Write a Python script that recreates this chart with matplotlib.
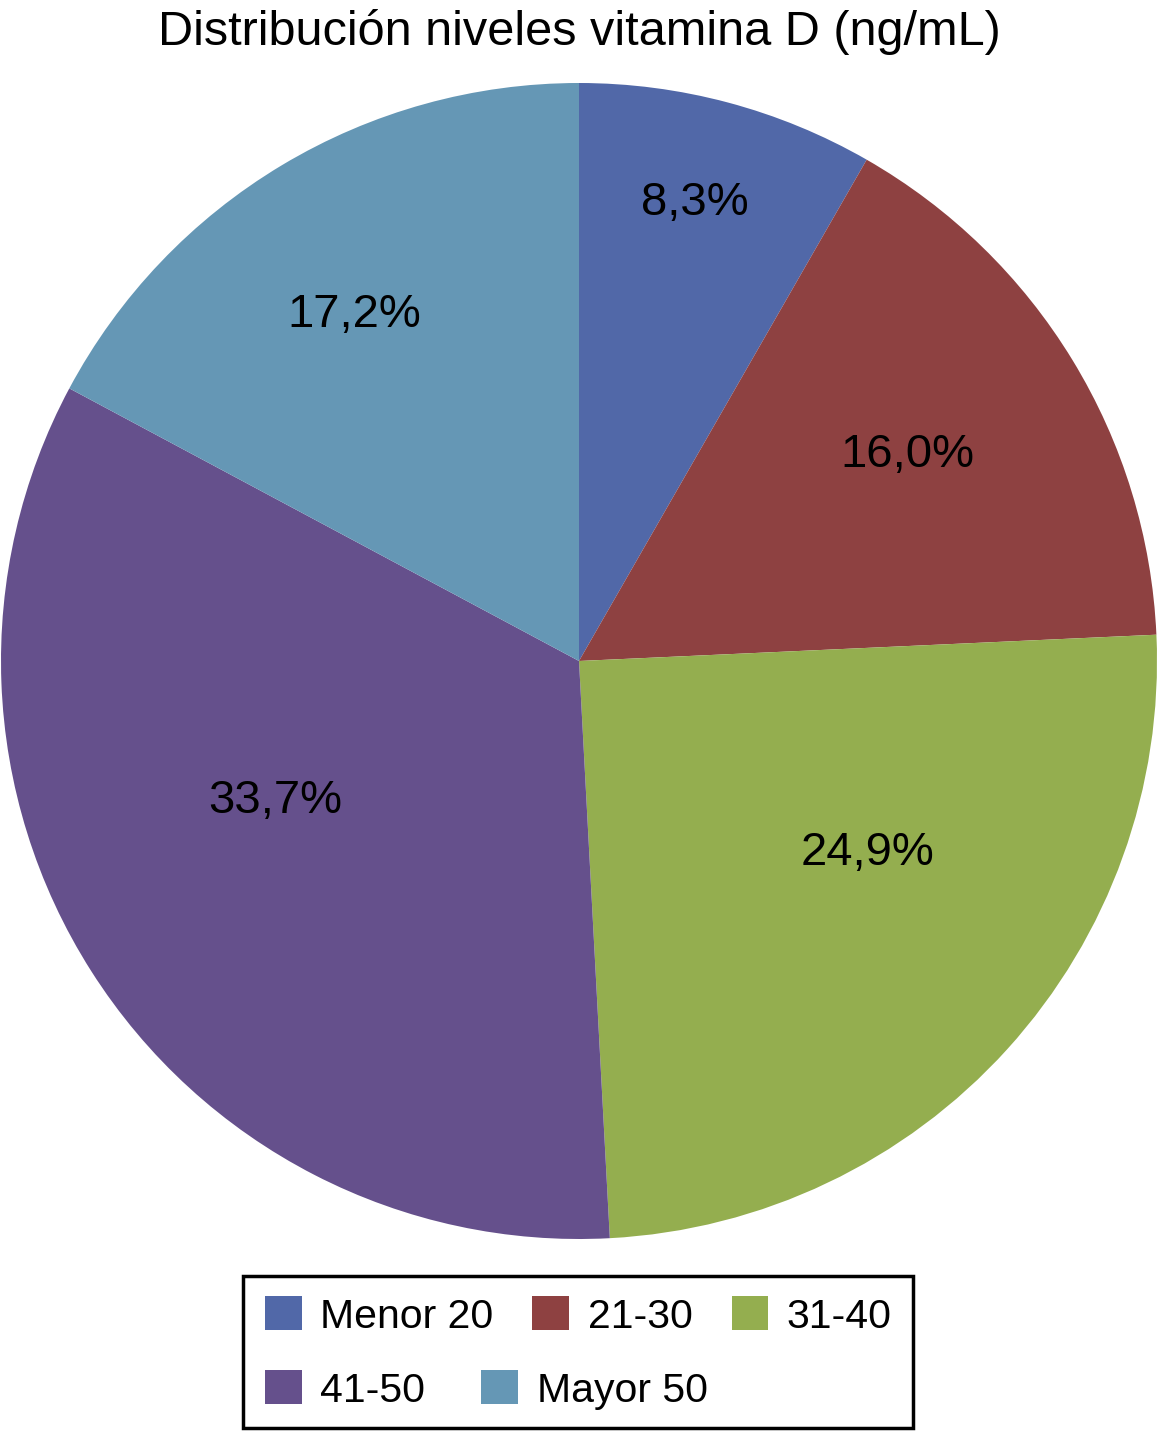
import numpy as np
import matplotlib
matplotlib.use("Agg")
import matplotlib.pyplot as plt
from matplotlib.patches import Patch, Rectangle

plt.rcParams['font.family'] = ['Liberation Sans', 'DejaVu Sans']

title = "Distribución niveles vitamina D (ng/mL)"
categories = ["Menor 20", "21-30", "31-40", "41-50", "Mayor 50"]
values = [8.3, 16.0, 24.9, 33.7, 17.2]
value_labels = ["8,3%", "16,0%", "24,9%", "33,7%", "17,2%"]
colors = ["#5168A8", "#8E4141", "#94AE4F", "#65508C", "#6597B5"]

# label placement (fraction of radius, clockwise angle offset in degrees)
label_radius = [0.817, 0.67, 0.60, 0.578, 0.713]
label_angle_offset = [-0.7, -0.7, -8.6, 7.7, -2.1]

W, H = 1158, 1432
fig = plt.figure(figsize=(W / 100, H / 100), dpi=100)

cx, cy, r = 579, 661, 578
ax = fig.add_axes([(cx - r) / W, (H - cy - r) / H, 2 * r / W, 2 * r / H])

wedges, _ = ax.pie(values, colors=colors, startangle=90, counterclock=False,
                   radius=1, wedgeprops=dict(linewidth=0), normalize=True)
ax.set_xlim(-1, 1)
ax.set_ylim(-1, 1)
ax.axis('off')

for w, lab, rf, off in zip(wedges, value_labels, label_radius, label_angle_offset):
    mid = np.deg2rad((w.theta1 + w.theta2) / 2 - off)
    ax.text(rf * np.cos(mid), rf * np.sin(mid), lab, ha='center', va='center',
            fontsize=34, color='black')

fig.text(0.5, 1 - 45 / H, title, ha='center', va='baseline', fontsize=35)

# legend frame
fig.patches.append(Rectangle((243 / W, (H - 1428) / H), (913 - 243) / W, (1428 - 1276) / H,
                             transform=fig.transFigure, fill=False, edgecolor='black',
                             linewidth=2.5))

handles = [Patch(facecolor=c, edgecolor='none') for c in colors]
common = dict(frameon=False, fontsize=29.5, handlelength=0.9, handleheight=0.9,
              handletextpad=0.45, borderpad=0, borderaxespad=0, loc='center left')
leg1 = fig.legend(handles[:3], categories[:3], ncol=3, columnspacing=0.95,
                  bbox_to_anchor=(265 / W, 1 - 1316 / H), **common)
leg2 = fig.legend(handles[3:], categories[3:], ncol=2, columnspacing=1.37,
                  bbox_to_anchor=(265 / W, 1 - 1390 / H), **common)

fig.savefig("out.png", dpi=100, facecolor='white')
